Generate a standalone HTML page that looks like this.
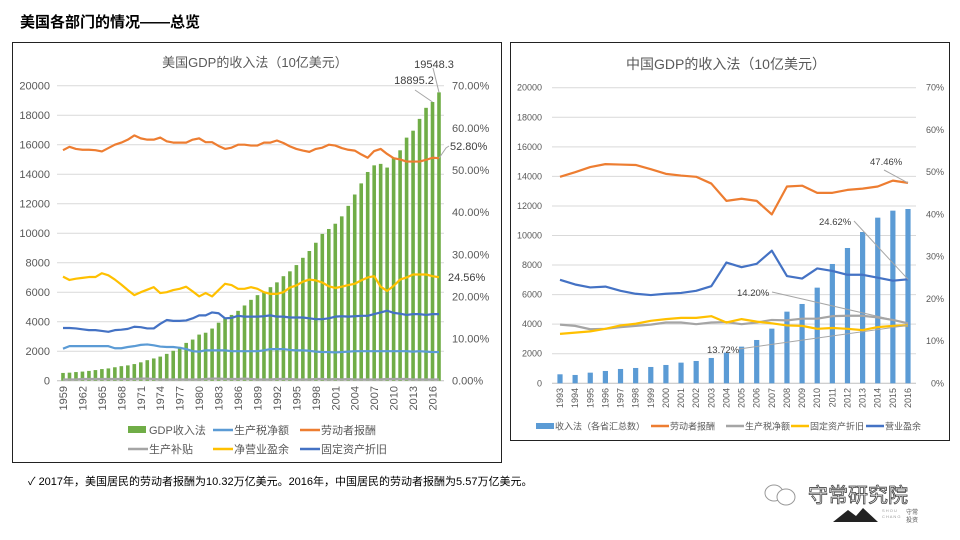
<!DOCTYPE html>
<html><head><meta charset="utf-8">
<style>
body{margin:0;width:960px;height:540px;background:#fff;overflow:hidden;font-family:"Liberation Sans","Noto Sans CJK SC",sans-serif;}
svg{position:absolute;left:0;top:0;}
text{font-family:"Liberation Sans","Noto Sans CJK SC",sans-serif;}
</style></head>
<body>
<svg id="s" width="960" height="540">
<text x="20" y="27" font-size="15" font-weight="bold" fill="#000">美国各部门的情况——总览</text>
<rect x="12.5" y="42.5" width="489" height="420" fill="none" stroke="#222"/>
<rect x="510.5" y="42.5" width="439" height="398" fill="none" stroke="#222"/>
<text x="255" y="67" font-size="13" fill="#595959" text-anchor="middle">美国GDP的收入法（10亿美元）</text>
<text x="726" y="69" font-size="14" fill="#595959" text-anchor="middle">中国GDP的收入法（10亿美元）</text>
<text x="28" y="485" font-size="11" fill="#000">✓  2017年，美国居民的劳动者报酬为10.32万亿美元。2016年，中国居民的劳动者报酬为5.57万亿美元。</text>
<g>
<ellipse cx="774" cy="493" rx="9" ry="8" fill="none" stroke="#999"/>
<ellipse cx="786" cy="497" rx="9" ry="8" fill="#fff" stroke="#999"/>
<text x="808" y="502" font-size="20" fill="#fff" stroke="#444" stroke-width="0.8">守常研究院</text>
<polygon points="833,522 848,510 856,516 863,508 878,522" fill="#222"/>
<text x="882" y="512" font-size="4" fill="#999">S H O U</text>
<text x="882" y="518" font-size="4" fill="#999">C H A N G</text>
<text x="906" y="514" font-size="6" fill="#555">守常</text>
<text x="906" y="522" font-size="6" fill="#555">投资</text>
</g>
</svg>
<script>
// ---------- US chart data ----------
const usYears = [];
for (let y = 1959; y <= 2017; y++) usYears.push(y);
const usGdp = [506,526,545,586,618,664,720,788,833,911,986,1039,1127,1245,1391,1508,1634,1819,2029,2294,2563,2789,3126,3253,3535,3931,4218,4460,4736,5100,5482,5800,5992,6342,6667,7085,7415,7839,8332,8793,9353,9951,10286,10642,11142,11853,12623,13377,14150,14600,14700,14450,15100,15620,16480,16950,17750,18500,18895.2,19548.3].slice(1);
const usLabor = [54.7,55.5,55,54.8,54.8,54.7,54.4,55.2,56,56.5,57.2,58.2,57.5,57.2,57.2,57.7,56.8,56.5,56.5,56.5,57.2,57.5,56.6,56.6,55.7,55,55.3,56,56,55.8,55.8,56.5,56.5,57,56.4,55.6,55,54.6,54.3,55,55.3,56,55.8,55.2,54.8,54.6,53.7,52.9,54.5,55,53.8,52.8,52.5,52,52,52,52.4,52.9,52.8];
const usSurplus = [24.7,23.9,24.2,24.4,24.6,24.6,25.5,25,24,22.8,21.5,20.3,21,21.6,22.2,20.8,21,21.5,21.8,22.3,21.2,20,20.8,20,21.5,23,22.7,21.8,21.8,22.2,21.8,21,20.6,20.6,21,22.1,22.6,23.5,24,23.8,23.3,22.4,22,22.3,22.7,23,23.8,24.5,24.8,22.3,21.3,22.5,24,24.5,25.2,25.2,25.2,24.8,24.56];
const usDep = [12.5,12.5,12.4,12.2,12,12,11.8,11.6,12,12.1,12.3,12.8,12.7,12.4,12.4,13.5,14.4,14.2,14.2,14.3,14.8,15.5,15.5,16.2,16,14.8,14.9,15.4,15.2,15.2,15.2,15.3,15.5,15.2,15.2,15,15,15,14.8,14.6,14.6,14.8,15.2,15.3,15.2,15.3,15.4,15.4,15.8,16.2,16.6,16.1,15.9,15.6,15.8,15.8,15.6,15.8,15.8];
const usTax = [7.6,8.2,8.2,8.2,8.2,8.2,8.2,8.2,7.7,7.7,8,8.2,8.5,8.6,8.4,8.1,8,8,7.8,7.5,7,6.9,7.2,7.2,7.2,7.2,7,7,7,7,7,7.2,7.5,7.5,7.5,7.3,7.2,7.2,7.1,6.9,6.8,6.8,6.7,6.8,6.9,7,7,7,7,7,7,7,7,7,6.9,7,6.9,6.8,6.8];
const usSubsidy = [0.3,0.3,0.3,0.4,0.4,0.4,0.4,0.4,0.4,0.4,0.4,0.4,0.5,0.5,0.4,0.3,0.3,0.3,0.3,0.3,0.3,0.3,0.4,0.5,0.5,0.4,0.4,0.4,0.5,0.4,0.3,0.3,0.3,0.4,0.4,0.4,0.3,0.3,0.3,0.4,0.4,0.3,0.4,0.3,0.4,0.3,0.3,0.3,0.3,0.3,0.4,0.4,0.4,0.4,0.3,0.3,0.3,0.3,0.3];
const usLeftTicks = [0,2000,4000,6000,8000,10000,12000,14000,16000,18000,20000];
const usRightTicks = [0,10,20,30,40,50,60,70];

// ---------- China chart data ----------
const cnYears = [];
for (let y = 1993; y <= 2016; y++) cnYears.push(y);
const cnGdp = [609,564,720,834,970,1037,1105,1240,1398,1511,1714,2075,2480,2931,3698,4848,5367,6472,8073,9155,10237,11207,11681,11793];
const cnLabor = [48.9,50.0,51.2,51.9,51.8,51.7,50.7,49.6,49.2,48.9,47.3,43.2,43.7,43.2,40.0,46.6,46.8,45.1,45.1,45.8,46.1,46.6,48.0,47.46];
const cnSurplus = [24.5,23.4,22.7,22.9,21.9,21.2,20.9,21.2,21.4,21.9,23.0,28.6,27.5,28.3,31.4,25.4,24.8,27.2,26.6,25.7,25.7,25.0,24.3,24.62];
const cnTax = [13.9,13.6,12.8,12.9,13.3,13.6,13.9,14.4,14.4,14.0,14.4,14.5,14.0,14.4,15.0,14.9,15.3,15.3,15.9,16.0,16.0,15.6,15.0,14.2];
const cnDep = [11.7,12.0,12.3,12.9,13.7,14.1,14.8,15.2,15.5,15.5,15.9,14.4,15.2,14.6,14.2,13.7,13.6,12.9,13.1,12.9,12.6,13.3,13.6,13.72];
const cnLeftTicks = [0,2000,4000,6000,8000,10000,12000,14000,16000,18000,20000];
const cnRightTicks = [0,10,20,30,40,50,60,70];

const svg = document.getElementById('s');
const NS = 'http://www.w3.org/2000/svg';
function mk(tag, attrs, parent) {
  const e = document.createElementNS(NS, tag);
  for (const k in attrs) e.setAttribute(k, attrs[k]);
  (parent || svg).appendChild(e);
  return e;
}

// ---------- US chart ----------
{
  const y0 = 380.7, y1 = 85.7, x0 = 63, x1 = 439;
  const yL = v => y0 - (v / 20000) * (y0 - y1);
  const yR = v => y0 - (v / 70) * (y0 - y1);
  const xS = i => x0 + i * (x1 - x0) / (usYears.length - 1);
  usLeftTicks.forEach(t => {
    if (t > 0) {
      const g = mk('line', {x1: 57, x2: 444, y1: yL(t), y2: yL(t), stroke: '#d9d9d9', 'stroke-width': 1});
      
      
    }
    const tx = mk('text', {x: 50, y: yL(t) + 4, 'font-size': 11, fill: '#595959', 'text-anchor': 'end'});
    tx.textContent = t;
    
    
  });
  usRightTicks.forEach(t => {
    const tx = mk('text', {x: 452, y: yR(t) + 4, 'font-size': 11, fill: '#595959'});
    tx.textContent = t.toFixed(2) + '%';
    
    
  });
  const ax = mk('line', {x1: 57, x2: 444, y1: y0, y2: y0, stroke: '#bfbfbf'});
  
  
  usGdp.forEach((v, i) => {
    if (i >= usYears.length) return;
    const b = mk('rect', {x: xS(i) - 1.8, y: yL(v), width: 3.6, height: y0 - yL(v), fill: '#70ad47'});
    
    
  });
  usYears.forEach((yr, i) => {
    if ((yr - 1959) % 3 !== 0) return;
    const tx = mk('text', {x: 0, y: 0, 'font-size': 11, fill: '#595959', 'text-anchor': 'end', transform: `translate(${xS(i) + 4},386) rotate(-90)`});
    tx.textContent = yr;
    
    
  });
  const series = [[usTax, '#5b9bd5', 'us-tax-line'], [usSubsidy, '#a5a5a5', 'us-subsidy-line'], [usDep, '#4472c4', 'us-depreciation-line'], [usSurplus, '#ffc000', 'us-surplus-line'], [usLabor, '#ed7d31', 'us-labor-line']];
  series.forEach(([arr, c, n]) => {
    const p = mk('polyline', {points: arr.map((v, i) => xS(i) + ',' + yR(v)).join(' '), fill: 'none', stroke: c, 'stroke-width': 2.2, 'stroke-linejoin': 'round'});
    
    
  });
  const li = usYears.length - 1;
  const ann = (txt, x, y, n, anchor) => {
    const t = mk('text', {x, y, 'font-size': 11, fill: '#404040', 'text-anchor': anchor || 'start'});
    t.textContent = txt;
    
    
  };
  mk('line', {x1: 433, y1: 68, x2: xS(li), y2: yL(usGdp[li]), stroke: '#a6a6a6'});
  ann(usGdp[li].toFixed(1), 434, 68, 'us-gdp-2017-label', 'middle');
  mk('line', {x1: 415, y1: 90, x2: xS(li - 1), y2: yL(usGdp[li - 1]), stroke: '#a6a6a6'});
  ann(usGdp[li - 1].toFixed(1), 414, 84, 'us-gdp-2016-label', 'middle');
  mk('polyline', {points: `${xS(li)},${yR(usLabor[li])} 446,148 449,146`, fill: 'none', stroke: '#a6a6a6'});
  ann(usLabor[li].toFixed(2) + '%', 450, 150, 'us-labor-label');
  ann(usSurplus[li].toFixed(2) + '%', 448, 281, 'us-surplus-label');
  const leg = [['GDP收入法', '#70ad47', 128, 430, true], ['生产税净额', '#5b9bd5', 213, 430], ['劳动者报酬', '#ed7d31', 300, 430], ['生产补贴', '#a5a5a5', 128, 449], ['净营业盈余', '#ffc000', 213, 449], ['固定资产折旧', '#4472c4', 300, 449]];
  leg.forEach(([t, c, x, y, box]) => {
    const g = mk('g', {});
    
    
    if (box) mk('rect', {x, y: y - 4, width: 18, height: 7, fill: c}, g);
    else mk('line', {x1: x, x2: x + 20, y1: y, y2: y, stroke: c, 'stroke-width': 2.5}, g);
    const tx = mk('text', {x: x + 21, y: y + 4, 'font-size': 11, fill: '#595959'}, g);
    tx.textContent = t;
  });
}

// ---------- China chart ----------
{
  const y0 = 383.3, y1 = 87.7, x0 = 560, x1 = 908;
  const yL = v => y0 - (v / 20000) * (y0 - y1);
  const yR = v => y0 - (v / 70) * (y0 - y1);
  const xS = i => x0 + i * (x1 - x0) / (cnYears.length - 1);
  cnLeftTicks.forEach(t => {
    if (t > 0) {
      const g = mk('line', {x1: 552, x2: 916, y1: yL(t), y2: yL(t), stroke: '#d9d9d9'});
      
      
    }
    const tx = mk('text', {x: 542, y: yL(t) + 3, 'font-size': 9, fill: '#595959', 'text-anchor': 'end'});
    tx.textContent = t;
    
    
  });
  cnRightTicks.forEach(t => {
    const tx = mk('text', {x: 944, y: yR(t) + 3, 'font-size': 9, fill: '#595959', 'text-anchor': 'end'});
    tx.textContent = t + '%';
    
    
  });
  const ax = mk('line', {x1: 552, x2: 916, y1: y0, y2: y0, stroke: '#bfbfbf'});
  
  
  cnGdp.forEach((v, i) => {
    const b = mk('rect', {x: xS(i) - 2.6, y: yL(v), width: 5.2, height: y0 - yL(v), fill: '#5b9bd5'});
    
    
  });
  cnYears.forEach((yr, i) => {
    const tx = mk('text', {x: 0, y: 0, 'font-size': 9, fill: '#595959', 'text-anchor': 'end', transform: `translate(${xS(i) + 3},388) rotate(-90)`});
    tx.textContent = yr;
    
    
  });
  const series = [[cnTax, '#a5a5a5', 'cn-tax-line'], [cnDep, '#ffc000', 'cn-depreciation-line'], [cnSurplus, '#4472c4', 'cn-surplus-line'], [cnLabor, '#ed7d31', 'cn-labor-line']];
  series.forEach(([arr, c, n]) => {
    const p = mk('polyline', {points: arr.map((v, i) => xS(i) + ',' + yR(v)).join(' '), fill: 'none', stroke: c, 'stroke-width': 2.2, 'stroke-linejoin': 'round'});
    
    
  });
  const li = cnYears.length - 1;
  const ann = (txt, x, y, lx, ly, v, n) => {
    mk('line', {x1: lx, y1: ly, x2: xS(li), y2: yR(v), stroke: '#a6a6a6'});
    const t = mk('text', {x, y, 'font-size': 9.5, fill: '#404040'});
    t.textContent = txt;
    
    
  };
  ann(cnLabor[li].toFixed(2) + '%', 870, 165, 884, 170, cnLabor[li], 'cn-labor-label');
  ann(cnSurplus[li].toFixed(2) + '%', 819, 225, 854, 221, cnSurplus[li], 'cn-surplus-label');
  ann(cnTax[li].toFixed(2) + '%', 737, 296, 772, 292, cnTax[li], 'cn-tax-label');
  ann(cnDep[li].toFixed(2) + '%', 707, 353, 739, 349, cnDep[li], 'cn-depreciation-label');
  const leg = [['收入法（各省汇总数）', '#5b9bd5', 536, true], ['劳动者报酬', '#ed7d31', 651], ['生产税净额', '#a5a5a5', 726], ['固定资产折旧', '#ffc000', 791], ['营业盈余', '#4472c4', 866]];
  leg.forEach(([t, c, x, box]) => {
    const y = 426;
    const g = mk('g', {});
    
    
    if (box) mk('rect', {x, y: y - 3, width: 18, height: 6, fill: c}, g);
    else mk('line', {x1: x, x2: x + 18, y1: y, y2: y, stroke: c, 'stroke-width': 2.5}, g);
    const tx = mk('text', {x: x + 19, y: y + 3.5, 'font-size': 9, fill: '#595959'}, g);
    tx.textContent = t;
  });
}
</script>
</body></html>
